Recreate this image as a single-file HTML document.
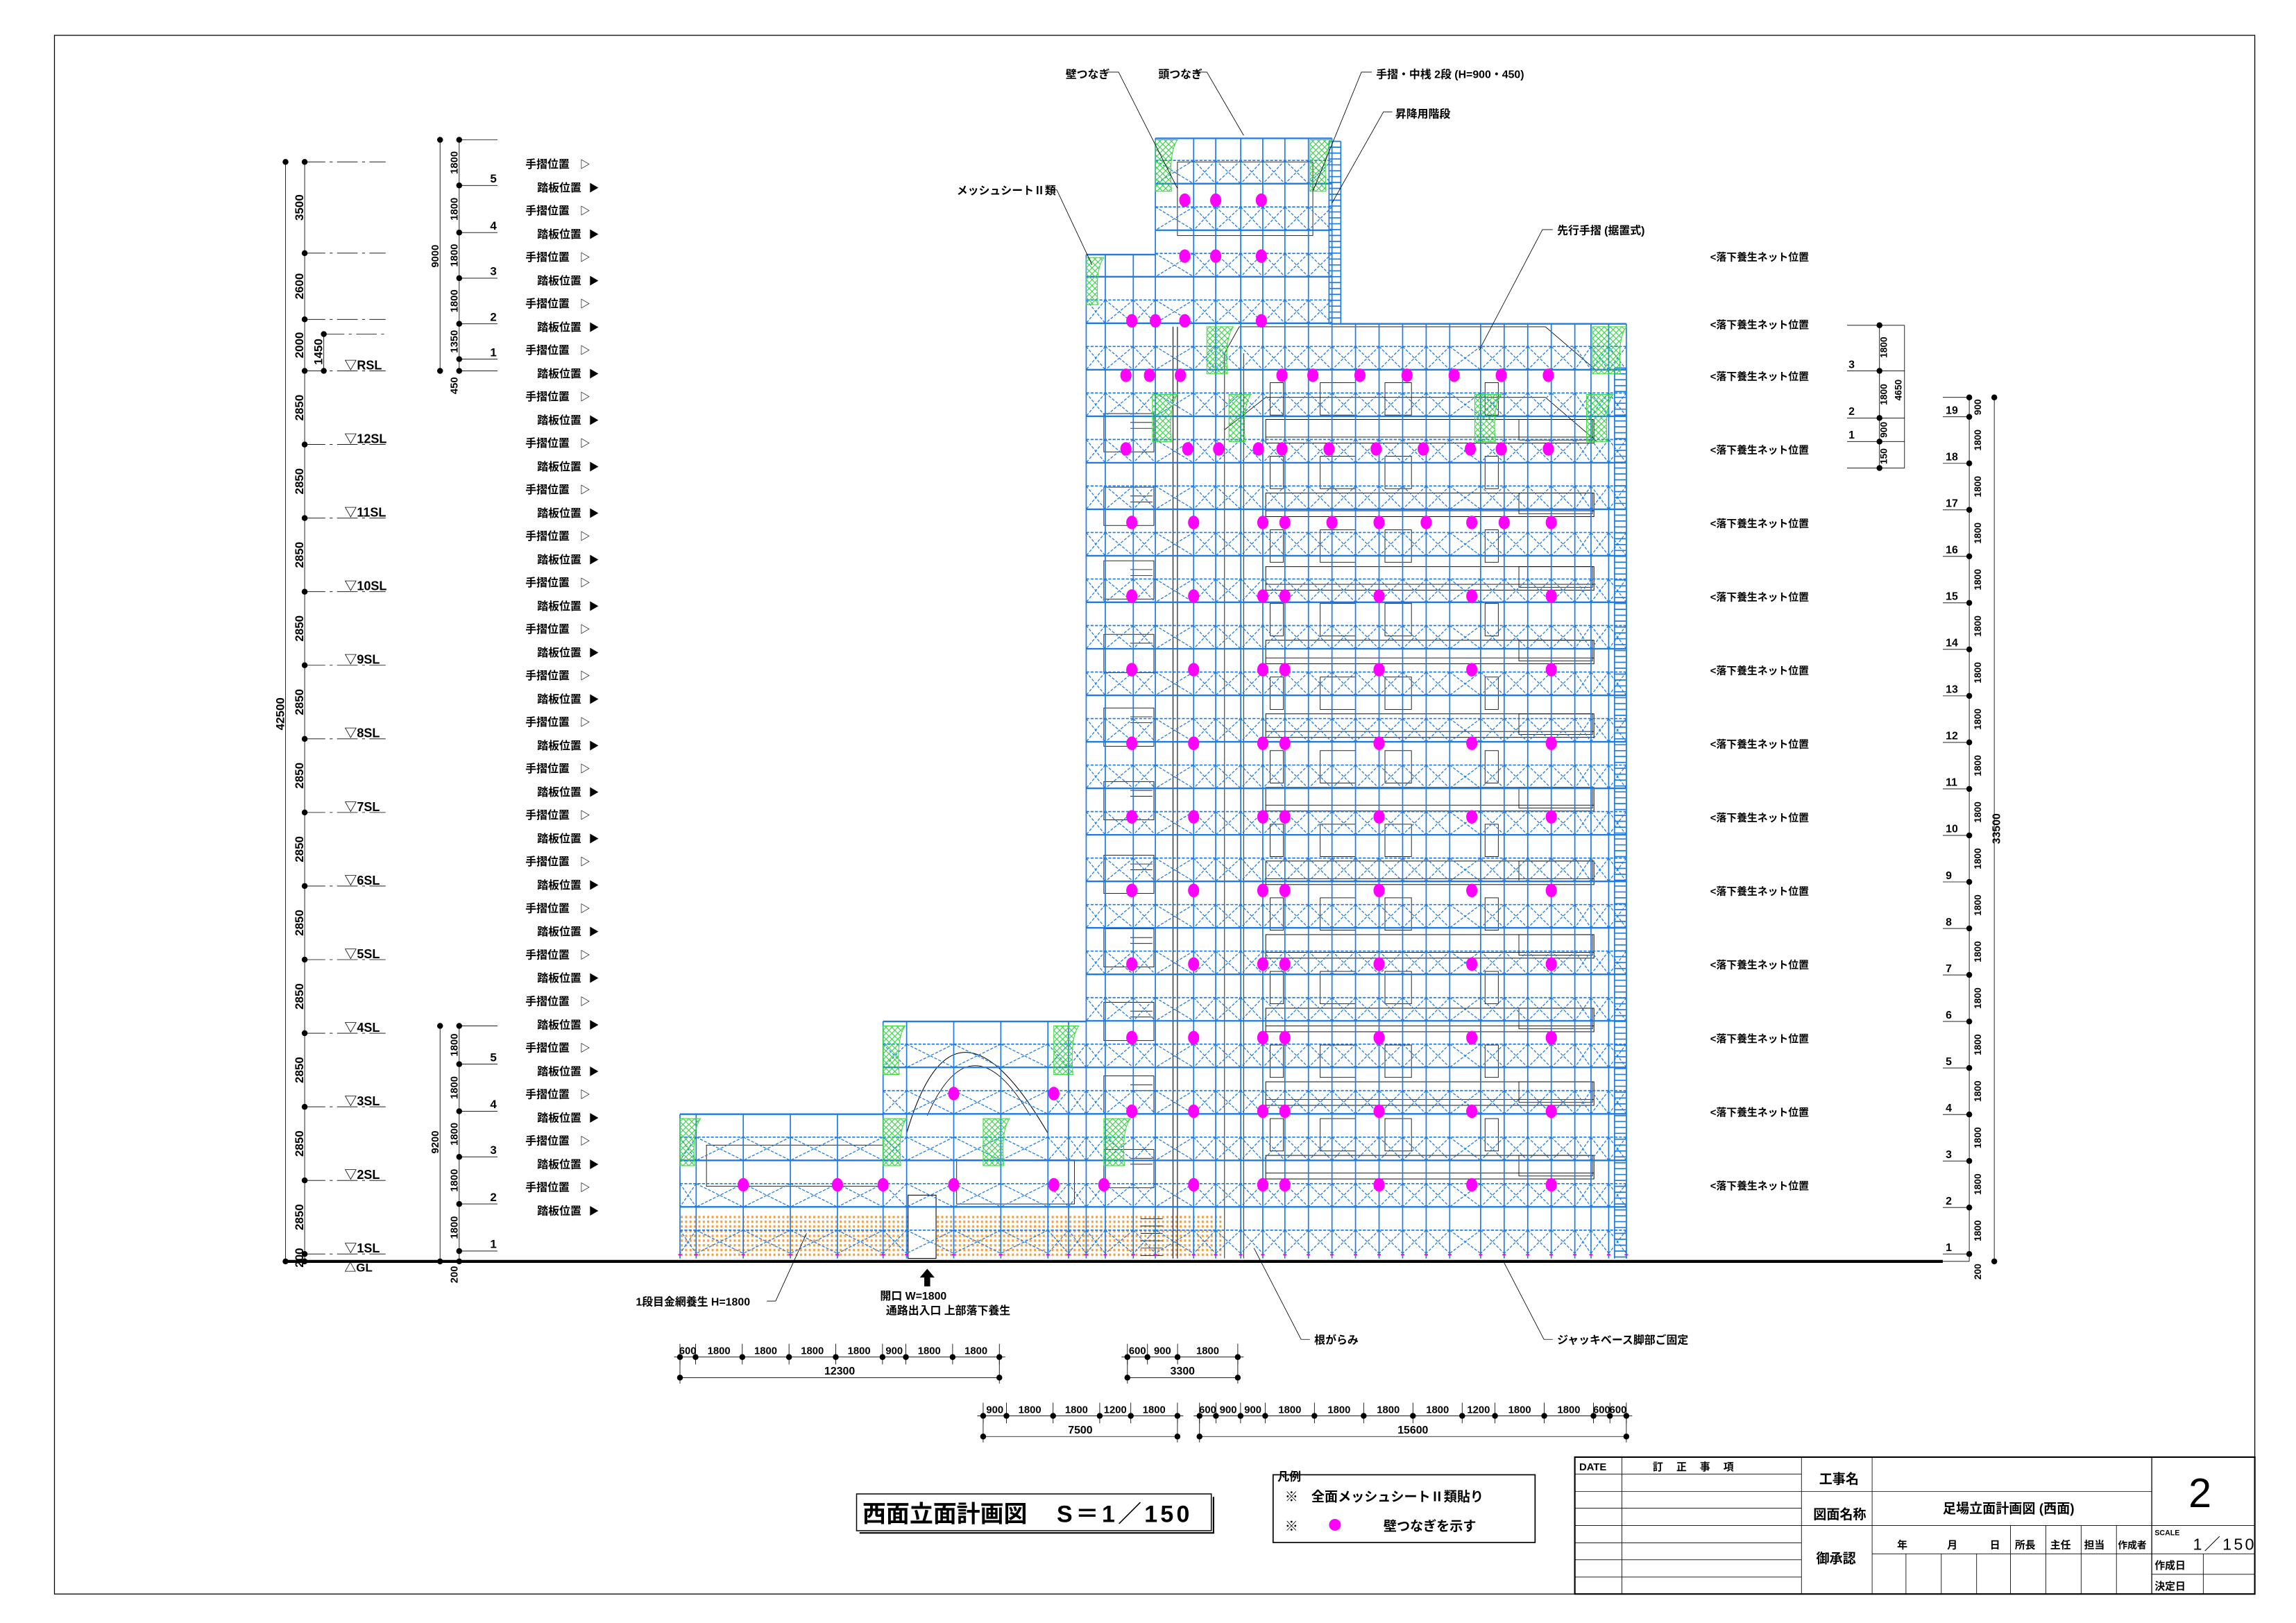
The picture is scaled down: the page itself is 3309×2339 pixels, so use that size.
<!DOCTYPE html>
<html><head><meta charset="utf-8">
<style>
html,body{margin:0;padding:0;background:#fff;}
svg{display:block;}
text{font-family:"Liberation Sans","Noto Sans CJK JP",sans-serif;fill:#000;}
</style></head>
<body>
<svg id="s" xmlns="http://www.w3.org/2000/svg" width="3309" height="2339" viewBox="0 0 1560 1102.7" preserveAspectRatio="none">
<defs>
<pattern id="hatch" width="4" height="4" patternUnits="userSpaceOnUse">
<path d="M0,0 L4,4 M4,0 L0,4" stroke="#2ecc40" stroke-width="0.5"/>
</pattern>
<pattern id="dots" width="3" height="3.2" patternUnits="userSpaceOnUse">
<rect x="0.5" y="0.5" width="1.4" height="1.6" fill="#f0a040"/>
</pattern>
</defs>
<rect x="0" y="0" width="1560" height="1102.7" fill="#fff"/>
<rect x="37" y="24" width="1495" height="1059" fill="none" stroke="#000" stroke-width="0.6"/>
<g id="g"></g>

<!-- static texts -->
<g font-size="7.5" font-weight="bold">
<text x="724" y="53">壁つなぎ</text>
<text x="787" y="53">頭つなぎ</text>
<text x="935" y="53">手摺・中桟 2段 (H=900・450)</text>
<text x="948" y="80">昇降用階段</text>
<text x="650" y="132">メッシュシートⅡ類</text>
<text x="1058" y="159">先行手摺 (据置式)</text>
<text x="432" y="887">1段目金網養生 H=1800</text>
<text x="598" y="883">開口 W=1800</text>
<text x="602" y="893">通路出入口 上部落下養生</text>
<text x="893" y="913">根がらみ</text>
<text x="1058" y="913">ジャッキベース脚部ご固定</text>
</g>
<g stroke="#000" stroke-width="0.4" fill="none">
<polyline points="752,49 760,49 800,128"/>
<polyline points="812,49 820,49 845,92"/>
<polyline points="932,49 925,49 892,130"/>
<polyline points="946,76 940,76 905,138"/>
<polyline points="712,129 718,129 742,180"/>
<polyline points="1055,156 1048,156 1005,238"/>
<polyline points="521,884 527,884 548,838"/>
<polyline points="890,910 884,910 852,848"/>
<polyline points="1055,910 1049,910 1022,858"/>
</g>
<path d="M630,862 l-5,6 h3 v6 h4 v-6 h3 z" fill="#000"/>

<!-- title -->
<rect x="582" y="1015" width="241" height="25" fill="none" stroke="#000" stroke-width="0.7"/>
<line x1="584" y1="1041.5" x2="825" y2="1041.5" stroke="#000" stroke-width="1"/>
<line x1="824.5" y1="1017" x2="824.5" y2="1041.5" stroke="#000" stroke-width="1"/>
<text x="586" y="1034" font-size="16" font-weight="bold">西面立面計画図</text>
<text x="718" y="1034" font-size="16" font-weight="bold" letter-spacing="2">S＝1／150</text>

<!-- legend -->
<rect x="865" y="1002" width="178" height="46" fill="none" stroke="#000" stroke-width="0.8"/>
<text x="868" y="1006" font-size="8" font-weight="bold">凡例</text>
<text x="873" y="1020" font-size="9" font-weight="bold">※　全面メッシュシートⅡ類貼り</text>
<text x="873" y="1040" font-size="9" font-weight="bold">※</text>
<ellipse cx="907" cy="1036" rx="4" ry="4" fill="#ff00ff"/>
<text x="940" y="1040" font-size="9" font-weight="bold">壁つなぎを示す</text>

<!-- title block -->
<g stroke="#000" fill="none">
<rect x="1070" y="990" width="462" height="93" stroke-width="1"/>
<line x1="1102" y1="990" x2="1102" y2="1083" stroke-width="0.4"/>
<line x1="1224" y1="990" x2="1224" y2="1083" stroke-width="0.4"/>
<line x1="1272" y1="990" x2="1272" y2="1083" stroke-width="0.4"/>
<line x1="1462" y1="990" x2="1462" y2="1083" stroke-width="0.6"/>
<line x1="1070" y1="1001.5" x2="1224" y2="1001.5" stroke-width="0.4"/>
<line x1="1070" y1="1013.3" x2="1462" y2="1013.3" stroke-width="0.4"/>
<line x1="1070" y1="1024.7" x2="1224" y2="1024.7" stroke-width="0.4"/>
<line x1="1070" y1="1036.5" x2="1532" y2="1036.5" stroke-width="0.4"/>
<line x1="1070" y1="1048.3" x2="1224" y2="1048.3" stroke-width="0.4"/>
<line x1="1070" y1="1059.7" x2="1224" y2="1059.7" stroke-width="0.4"/>
<line x1="1070" y1="1071.5" x2="1224" y2="1071.5" stroke-width="0.4"/>
<line x1="1272" y1="1055.7" x2="1532" y2="1055.7" stroke-width="0.4"/>
<line x1="1462" y1="1069.6" x2="1532" y2="1069.6" stroke-width="0.4"/>
<line x1="1497" y1="1055.7" x2="1497" y2="1083" stroke-width="0.4"/>
<line x1="1295" y1="1055.7" x2="1295" y2="1083" stroke-width="0.4"/>
<line x1="1319" y1="1055.7" x2="1319" y2="1083" stroke-width="0.4"/>
<line x1="1343" y1="1055.7" x2="1343" y2="1083" stroke-width="0.4"/>
<line x1="1366" y1="1036.5" x2="1366" y2="1083" stroke-width="0.4"/>
<line x1="1390" y1="1036.5" x2="1390" y2="1083" stroke-width="0.4"/>
<line x1="1414" y1="1036.5" x2="1414" y2="1083" stroke-width="0.4"/>
<line x1="1438" y1="1036.5" x2="1438" y2="1083" stroke-width="0.4"/>
</g>
<g font-size="7" font-weight="bold">
<text x="1073" y="999">DATE</text>
<text x="1123" y="999" letter-spacing="9">訂正事項</text>
<text x="1236" y="1008" font-size="9">工事名</text>
<text x="1232" y="1032" font-size="9">図面名称</text>
<text x="1234" y="1062" font-size="9">御承認</text>
<text x="1320" y="1028" font-size="9">足場立面計画図 (西面)</text>
<text x="1289" y="1052">年</text>
<text x="1323" y="1052">月</text>
<text x="1352" y="1052">日</text>
<text x="1369" y="1052">所長</text>
<text x="1393" y="1052">主任</text>
<text x="1416" y="1052">担当</text>
<text x="1439" y="1052" font-size="6.5">作成者</text>
<text x="1464" y="1043" font-size="5">SCALE</text>
<text x="1490" y="1053" font-size="11" font-weight="normal" letter-spacing="1.5">1／150</text>
<text x="1464" y="1066">作成日</text>
<text x="1464" y="1080">決定日</text>
<text x="1487" y="1024" font-size="28" font-weight="normal">2</text>
</g>
</svg>
<script>
(function(){
var NS="http://www.w3.org/2000/svg";var g=document.getElementById("g");
function el(t,a,txt){var e=document.createElementNS(NS,t);for(var k in a)e.setAttribute(k,a[k]);if(txt!==undefined)e.textContent=txt;g.appendChild(e);return e;}
function L(x1,y1,x2,y2,c,w,d){var a={x1:x1,y1:y1,x2:x2,y2:y2,stroke:c||"#000","stroke-width":w||0.4};if(d)a["stroke-dasharray"]=d;el("line",a);}
function T(x,y,s,sz,anc,rot,bold){var a={x:x,y:y,"font-size":sz||8};if(anc)a["text-anchor"]=anc;if(bold!==false)a["font-weight"]="bold";if(rot)a.transform="rotate(-90 "+x+" "+y+")";el("text",a,s);}
function dot(x,y){el("circle",{cx:x,cy:y,r:2});}
var B="#1e7be6";
var GL=855;
// orange
el("rect",{x:462,y:825,width:155,height:30,fill:"url(#dots)"});
el("rect",{x:636,y:825,width:194,height:30,fill:"url(#dots)"});
// black building lines
var bk="#000";
for(var n=2;n<=12;n++){var yf=GL-50*(n-1);
 el("rect",{x:860,y:yf-20,width:223,height:16,fill:"none",stroke:bk,"stroke-width":0.45});
 L(860,yf-8,1083,yf-8,bk,0.4);
 el("rect",{x:1032,y:yf-20,width:50,height:14,fill:"none",stroke:bk,"stroke-width":0.4});
 [[863,9],[897,24],[941,18],[1009,9]].forEach(function(w){el("rect",{x:w[0],y:yf-45,width:w[1],height:22,fill:"none",stroke:bk,"stroke-width":0.4});});
 el("rect",{x:750,y:yf-24,width:34,height:26,fill:"none",stroke:bk,"stroke-width":0.4});
 L(768,yf-18,783,yf-18,bk,0.4);L(768,yf-14,783,yf-14,bk,0.4);
}
L(797,222,797,855,bk,0.5);L(800,222,800,855,bk,0.5);L(845,240,845,855,bk,0.4);L(832,240,832,855,bk,0.4);
el("path",{d:"M832,240 L842,222 L1050,222 L1085,252 M832,292 L860,270 L1050,270 L1085,300",fill:"none",stroke:bk,"stroke-width":0.4});
el("rect",{x:800,y:110,width:92,height:50,fill:"none",stroke:bk,"stroke-width":0.4});
el("path",{d:"M616,770 Q648,660 712,770",fill:"none",stroke:bk,"stroke-width":0.5});
el("path",{d:"M630,758 Q660,690 700,758",fill:"none",stroke:bk,"stroke-width":0.4});
el("rect",{x:617,y:812,width:19,height:43,fill:"none",stroke:bk,"stroke-width":0.5});
el("rect",{x:480,y:778,width:120,height:28,fill:"none",stroke:bk,"stroke-width":0.4});
el("rect",{x:650,y:788,width:80,height:30,fill:"none",stroke:bk,"stroke-width":0.4});
for(var i=0;i<6;i++)L(775,828+i*5,790,828+i*5,bk,0.4);
// scaffold
var regions=[[462,600,757],[600,738,694],[738,785,173],[785,905,94],[905,1105,220]];
var posts=[462,473,505,537,569,600,616,648,680,712,726,738,751,770,785,811,826,843,858,873,889,905,921,937,953,969,985,1006,1022,1038,1054,1070,1081,1093,1105];
function topAt(x){var t=GL;regions.forEach(function(r){if(x>=r[0]-0.1&&x<=r[1]+0.1&&r[2]<t)t=r[2];});return t;}
function yk(k){return 820-31.6*k;}
regions.forEach(function(r){
 var ps=posts.filter(function(p){return p>=r[0]&&p<=r[1];});
 L(r[0],r[2],r[1],r[2],B,1.1);
 for(var k=-1;k<25;k++){
  var ys=yk(k),yd=ys-15.8;
  if(k>=0&&ys>r[2]+2)L(r[0],ys,r[1],ys,B,1.1);
  if(yd>r[2]+1&&yd<GL){L(r[0],yd,r[1],yd,B,0.8,"2,1");
   var ye=Math.min(ys,GL-2);
   for(var i=0;i<ps.length-1;i++){var a=ps[i],b=ps[i+1];if(b-a<8)continue;
    L(a,yd,b,ye,B,0.6,"2,1");L(b,yd,a,ye,B,0.6,"2,1");}
  }
 }
});
posts.forEach(function(p){L(p,topAt(p),p,GL,B,0.8);el("rect",{x:p-1.2,y:GL-3,width:2.4,height:1,fill:"#ff00ff"});});
// ladders
function ladder(x0,x1,y0,y1){L(x0,y0,x0,y1,B,0.8);L(x1,y0,x1,y1,B,0.8);for(var y=y0;y<=y1;y+=4)L(x0,y,x1,y,B,0.8);}
ladder(903,911,96,220);ladder(1097,1105,250,855);
// green nets
[[785,95,15,35],[890,95,15,35],[738,175,12,32],[820,222,18,32],[1082,222,23,32],[783,268,17,32],[835,268,15,32],[1002,268,18,32],[1078,268,18,32],[600,697,15,33],[716,697,17,33],[462,760,14,32],[600,760,16,32],[668,760,18,32],[750,760,18,32]].forEach(function(h){
 el("path",{d:"M"+h[0]+","+h[1]+" h"+h[2]+" q-6,8 -4,"+h[3]+" h-"+(h[2]-4)+" z",fill:"url(#hatch)",stroke:"#3ddc3d","stroke-width":0.5});
});
// magenta dots
var rows=[[136,[805,826,857]],[174,[805,826,857]],[218,[769,785,805,857]],[255,[765,781,802,871,892,924,956,988,1020,1052]],[305,[765,807,828,855,871,903,935,967,999,1020,1052]],[355,[769,811,858,873,905,937,969,1000,1022,1054]]];
for(var y=405;y<=755;y+=50)rows.push([y,[769,811,858,873,937,1000,1054]]);
rows.push([805,[505,569,600,648,716,750,811,858,873,937,1000,1054]]);
rows.push([743,[648,716]]);
rows.forEach(function(r){r[1].forEach(function(x){el("ellipse",{cx:x,cy:r[0],rx:3.8,ry:4.6,fill:"#ff00ff"});});});
// ground
L(195,GL+2,1320,GL+2,"#000",2);
// left main dims
var lv=[110,172,217,252];for(var n=12;n>=1;n--)lv.push(252+50*(13-n));lv.push(GL+2);
L(194,110,194,GL+2);L(207,110,207,GL+2);
lv.forEach(function(y){dot(207,y);L(207,y,262,y,"#000",0.4,"14,3,2,3");});
dot(194,110);dot(194,GL+2);
var dl=["3500","2600","2000"];for(var i=0;i<12;i++)dl.push("2850");dl.push("200");
for(var i=0;i<lv.length-1;i++)T(206,(lv[i]+lv[i+1])/2,dl[i],8,"middle",true);
T(193,485,"42500",8,"middle",true);
L(220,227,220,252);dot(220,227);dot(220,252);L(220,227,262,227,"#000",0.4,"14,3,2,3");T(219,239,"1450",8,"middle",true);
var fl=["▽RSL","▽12SL","▽11SL","▽10SL","▽9SL","▽8SL","▽7SL","▽6SL","▽5SL","▽4SL","▽3SL","▽2SL","▽1SL"];
fl.forEach(function(s,i){T(234,251+50*i,s,8.5,"start",false);});
T(234,864,"△GL",8,"start",false);
// upper-left dim
L(299,95,299,252);L(312,95,312,252);
[95,126,158,189,220,244,252].forEach(function(y){dot(312,y);L(312,y,338,y);});dot(299,95);dot(299,252);
[["5",126],["4",158],["3",189],["2",220],["1",244]].forEach(function(a){T(333,a[1]-2,a[0],8,"start",false);});
[[95,126,"1800"],[126,158,"1800"],[158,189,"1800"],[189,220,"1800"],[220,244,"1350"]].forEach(function(a){T(311,(a[0]+a[1])/2,a[2],7,"middle",true);});
T(298,174,"9000",7,"middle",true);T(311,262,"450",7,"middle",true);
// lower-left dim
L(299,697,299,GL+2);L(312,697,312,GL+2);
var ll=[697,723,755,786,818,850,GL+2];ll.forEach(function(y){dot(312,y);L(312,y,338,y);});dot(299,697);dot(299,GL+2);
[["5",723],["4",755],["3",786],["2",818],["1",850]].forEach(function(a){T(333,a[1]-2,a[0],8,"start",false);});
for(var i=0;i<5;i++)T(311,(ll[i]+ll[i+1])/2,"1800",7,"middle",true);
T(298,776,"9200",7,"middle",true);T(311,866,"200",7,"middle",true);
// label column
for(var i=0;i<=22;i++){var y=111+31.6*i;T(357,y+3,"手摺位置",7.5);T(394,y+3,"▷",7,"start",false);
 var y2=127+31.6*i;T(365,y2+3,"踏板位置",7.5);T(400,y2+3,"▶",7,"start",false);}
// right net labels
var nl=[174,220,255];for(var y=305;y<=805;y+=50)nl.push(y);
nl.forEach(function(y){T(1162,y+3,"<落下養生ネット位置",7);});
// right scale
L(1338,270,1338,GL+2);L(1355,270,1355,GL+2);dot(1355,270);dot(1355,GL+2);
var rt=[];for(var n=1;n<=19;n++)rt.push(852-31.6*(n-1));
L(1320,270,1338,270);dot(1338,270);
rt.forEach(function(y,i){L(1320,y,1338,y);dot(1338,y);T(1322,y-2,String(i+1),7.5,"start",false);
 var yn=(i<18)?rt[i+1]:270;T(1346,(y+yn)/2,i<18?"1800":"900",6.5,"middle",true);});
L(1320,GL+2,1338,GL+2);T(1346,864,"200",6.5,"middle",true);
T(1359,563,"33500",7.5,"middle",true);
// small upper-right dim
L(1277,221,1277,318);L(1294,221,1294,318);
[221,252,284,300,318].forEach(function(y){L(1255,y,1294,y);dot(1277,y);});
T(1256,250,"3",7.5,"start",false);T(1256,282,"2",7.5,"start",false);T(1256,298,"1",7.5,"start",false);
T(1282,236,"1800",6.5,"middle",true);T(1282,268,"1800",6.5,"middle",true);T(1282,292,"900",6.5,"middle",true);T(1282,310,"150",6.5,"middle",true);
T(1292,265,"4650",6.5,"middle",true);
// bottom chains
function chain(x0,y,segs,tot,totLbl,scale){var x=x0;var xs=[x];segs.forEach(function(s){x+=s*scale;xs.push(x);});
 L(x0-4,y,x+4,y);xs.forEach(function(xx){L(xx,y-9,xx,y+5);dot(xx,y);});
 for(var i=0;i<segs.length;i++)T((xs[i]+xs[i+1])/2,y-2,String(segs[i]),7,"middle",false);
 if(totLbl){L(x0,y+14,x,y+14);dot(x0,y+14);dot(x,y+14);L(x0,y,x0,y+18);L(x,y,x,y+18);T((x0+x)/2,y+12,totLbl,7.5,"middle",false);}
}
chain(462,922,[600,1800,1800,1800,1800,900,1800,1800],12300,"12300",217/12300);
chain(766,922,[600,900,1800],3300,"3300",75/3300);
chain(668,962,[900,1800,1800,1200,1800],7500,"7500",132/7500);
chain(815,962,[600,900,900,1800,1800,1800,1800,1200,1800,1800,600,600],15600,"15600",290/15600);
})();
</script>
</body></html>
